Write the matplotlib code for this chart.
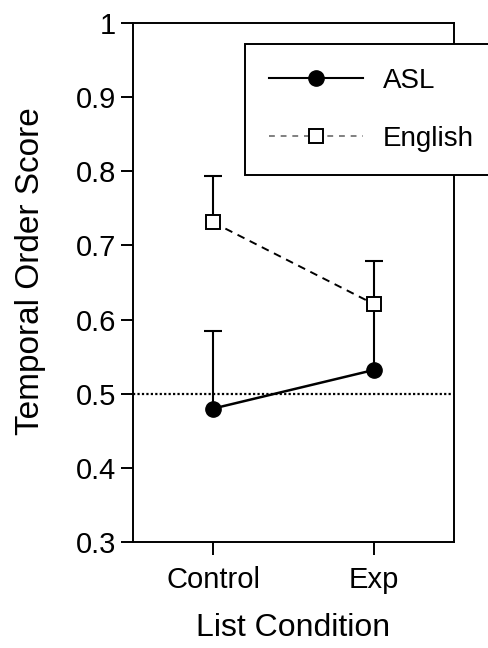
import matplotlib.pyplot as plt
from matplotlib.lines import Line2D

plt.rcParams['font.family'] = ['Liberation Sans', 'DejaVu Sans']

conditions = ['Control', 'Exp']
asl_mean = [0.48, 0.532]
asl_err = [0.105, 0.09]
eng_mean = [0.731, 0.621]
eng_err = [0.063, 0.058]
chance = 0.5

fig = plt.figure(figsize=(4.88, 6.48), dpi=100)
ax = fig.add_axes([133 / 488, 1 - 542 / 648, 321 / 488, 519 / 648])

x = [0, 1]
ax.axhline(chance, color='black', linestyle=(0, (1, 1)), linewidth=1.6, zorder=1)

# upper error bars only
_, caps, _ = ax.errorbar(x, asl_mean, yerr=[[0, 0], asl_err], fmt='none', ecolor='black',
                         elinewidth=1.5, capsize=6.5, capthick=1.5, zorder=2)
caps[0].set_visible(False)
caps[1].set_markevery([0])  # Exp cap sits behind the English square
_, caps, _ = ax.errorbar(x, eng_mean, yerr=[[0, 0], eng_err], fmt='none', ecolor='black',
                         elinewidth=1.5, capsize=6.5, capthick=1.5, zorder=2)
caps[0].set_visible(False)

ax.plot(x, asl_mean, color='black', linewidth=1.8, marker='o', markersize=11,
        markerfacecolor='black', zorder=4)
ax.plot(x, eng_mean, color='black', linewidth=1.4, linestyle=(0, (4, 3)), marker='s',
        markersize=10.5, markerfacecolor='white', markeredgecolor='black',
        markeredgewidth=1.4, zorder=4)

ax.set_xlim(-0.5, 1.5)
ax.set_ylim(0.3, 1.0)
ax.set_xticks(x)
ax.set_xticklabels(conditions)
ax.set_yticks([0.3, 0.4, 0.5, 0.6, 0.7, 0.8, 0.9, 1.0])
ax.set_yticklabels(['0.3', '0.4', '0.5', '0.6', '0.7', '0.8', '0.9', '1'])
ax.tick_params(direction='out', length=9, width=1.4, labelsize=21, colors='black',
               top=False, right=False)
ax.tick_params(axis='x', pad=8)
ax.tick_params(axis='y', pad=3)
for s in ax.spines.values():
    s.set_linewidth(1.4)

ax.set_ylabel('Temporal Order Score', fontsize=24)
ax.yaxis.set_label_coords((46 - 133) / 321, (542 - 271) / 519)
ax.set_xlabel('List Condition', fontsize=23, labelpad=14)

handles = [
    Line2D([0], [0], color='black', linewidth=1.5, marker='o', markersize=11,
           markerfacecolor='black'),
    Line2D([0], [0], color='gray', linewidth=1.4, linestyle=(0, (3, 3)), marker='s',
           markersize=10.5, markerfacecolor='white', markeredgecolor='black',
           markeredgewidth=1.4),
]
leg = ax.legend(handles, ['ASL', 'English'], loc='upper left',
                bbox_to_anchor=(112 / 321, 1 - 21 / 519), fontsize=20,
                frameon=True, fancybox=False, edgecolor='black', framealpha=1,
                handlelength=3.4, handletextpad=0.7, labelspacing=1.15,
                borderpad=0.85, borderaxespad=0)
leg.get_frame().set_linewidth(1.4)
leg.set_zorder(5)

fig.savefig('out.png', dpi=100)
